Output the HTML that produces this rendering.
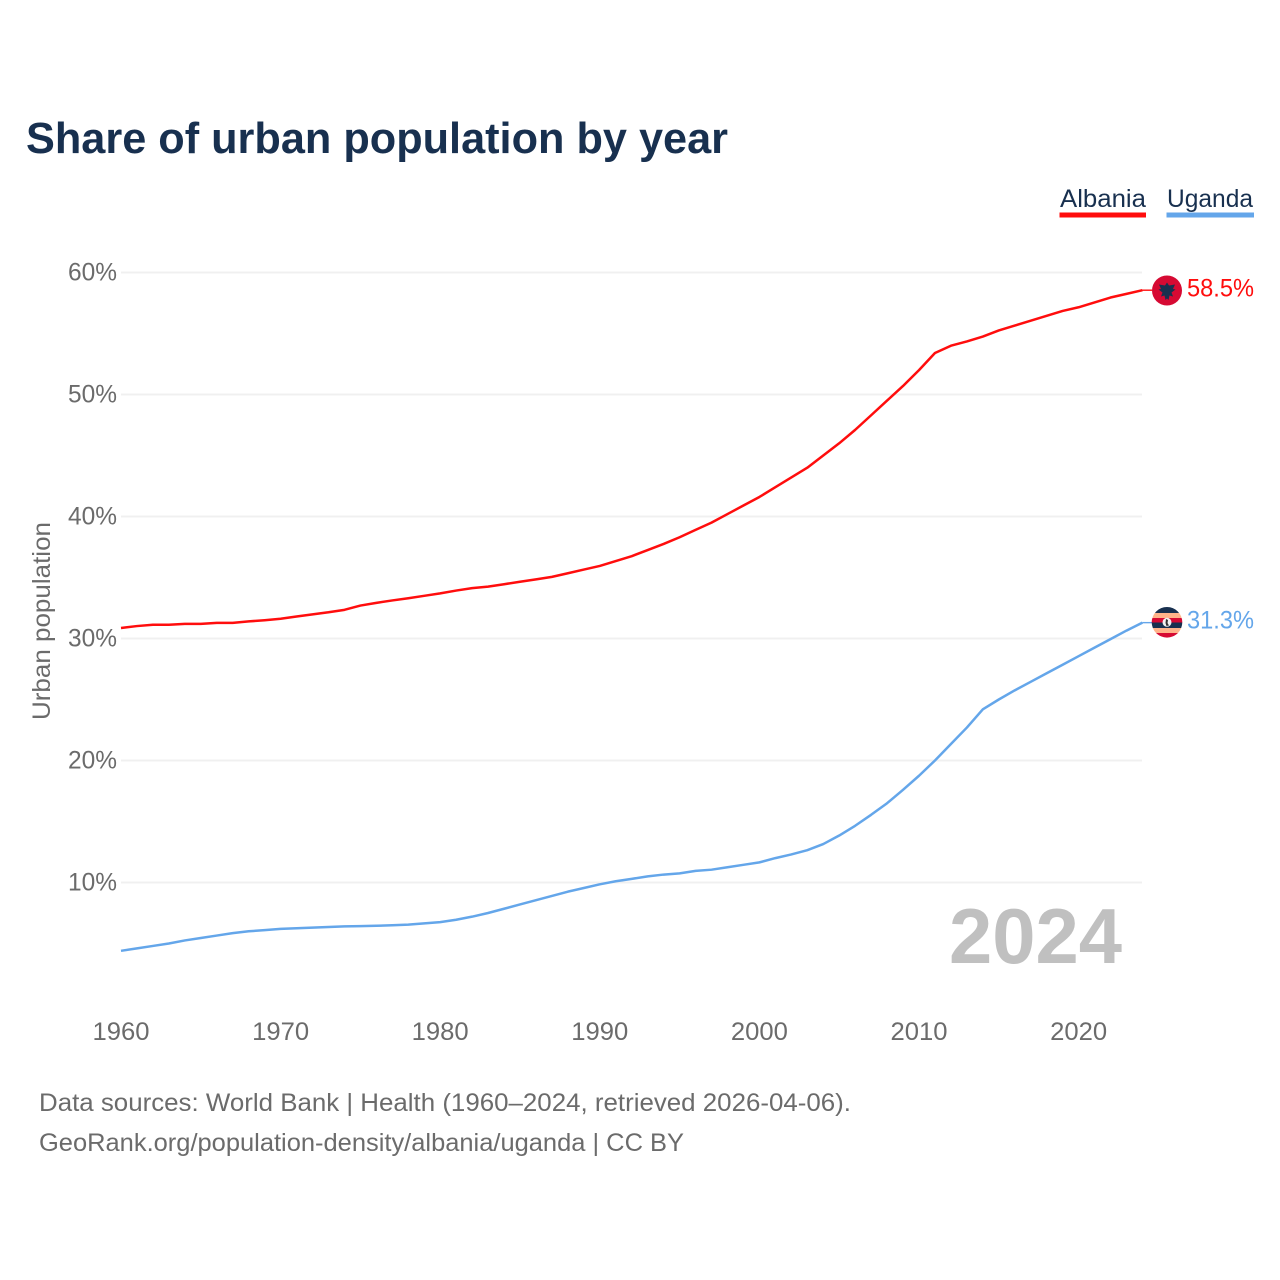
<!DOCTYPE html>
<html lang="en">
<head>
<meta charset="utf-8">
<title>Share of urban population by year</title>
<style>
html,body{margin:0;padding:0;background:#fff}
svg{display:block}
text{font-family:"Liberation Sans",sans-serif}
</style>
</head>
<body>
<svg id="chart" xmlns="http://www.w3.org/2000/svg" width="1280" height="1280" viewBox="0 0 1280 1280">
  <rect width="1280" height="1280" fill="#fff"/>
  <text x="26" y="153" font-size="44" font-weight="700" fill="#18304f" textLength="702" lengthAdjust="spacingAndGlyphs">Share of urban population by year</text>

  <text x="1060" y="207" font-size="25" fill="#18304f" textLength="86" lengthAdjust="spacingAndGlyphs">Albania</text>
  <rect x="1059.5" y="212.5" width="86.5" height="5" fill="#ff0d0d"/>
  <text x="1167" y="207" font-size="25" fill="#18304f" textLength="86" lengthAdjust="spacingAndGlyphs">Uganda</text>
  <rect x="1166.5" y="212.5" width="87.5" height="5" fill="#64a6ea"/>

  <g id="grid"></g>
  <g id="y-ticks"></g>
  <g id="x-ticks"></g>
  <text transform="translate(50,621) rotate(-90)" text-anchor="middle" font-size="25" fill="#6b6b6b" textLength="198" lengthAdjust="spacingAndGlyphs">Urban population</text>

  <text x="1122" y="963" text-anchor="end" font-size="78" font-weight="700" fill="#c0c0c0" textLength="173" lengthAdjust="spacingAndGlyphs">2024</text>

  <g id="series"></g>

  <g id="flag-albania">
    <circle cx="1167" cy="290.5" r="15" fill="#d60a33"/>
    <path d="M1167 282.500l2 3 6-1-2 4.500 2.500 .5-4 3 1.500 4-3.500-1-1 4.500-1.500-1.500-1.500 1.500-1-4.500-3.500 1 1.500-4-4-3 2.500-.5-2-4.500 6 1z" fill="#18304f"/>
  </g>
  <g id="flag-uganda">
    <clipPath id="uganda-clip"><circle cx="1167" cy="622.300" r="15.300"/></clipPath>
    <g clip-path="url(#uganda-clip)">
      <rect x="1151" y="606" width="32" height="7" fill="#18304f"/>
      <rect x="1151" y="613" width="32" height="5" fill="#ffb38a"/>
      <rect x="1151" y="618" width="32" height="4.500" fill="#d60a33"/>
      <rect x="1151" y="622.500" width="32" height="5.500" fill="#18304f"/>
      <rect x="1151" y="628" width="32" height="5" fill="#ffb38a"/>
      <rect x="1151" y="633" width="32" height="6" fill="#d60a33"/>
    </g>
    <circle cx="1167" cy="622.300" r="4.500" fill="#f2f2f2"/>
    <path d="M1166 619l2 1-.5 3 1.500 2.500-2.500 .5-1-3z" fill="#333"/>
  </g>

  <text id="end-label-albania" x="1187" y="296.500" font-size="25" fill="#ff0d0d" textLength="67" lengthAdjust="spacingAndGlyphs">58.5%</text>
  <text id="end-label-uganda" x="1187" y="628.500" font-size="25" fill="#64a6ea" textLength="67" lengthAdjust="spacingAndGlyphs">31.3%</text>

  <text x="39" y="1111" font-size="25" fill="#6b6b6b" textLength="812" lengthAdjust="spacingAndGlyphs">Data sources: World Bank | Health (1960–2024, retrieved 2026-04-06).</text>
  <text x="39" y="1151" font-size="25" fill="#6b6b6b" textLength="645" lengthAdjust="spacingAndGlyphs">GeoRank.org/population-density/albania/uganda | CC BY</text>
</svg>
<script>
const firstYear = 1960;
const xTickYears = [1960, 1970, 1980, 1990, 2000, 2010, 2020];
const yTickValues = [10, 20, 30, 40, 50, 60];
const albaniaValues = [
  30.86, 31.02, 31.13, 31.13, 31.2, 31.2, 31.28, 31.28, 31.4, 31.5,
  31.62, 31.8, 31.98, 32.15, 32.35, 32.7, 32.92, 33.12, 33.3, 33.5,
  33.7, 33.93, 34.13, 34.25, 34.45, 34.65, 34.85, 35.05, 35.35, 35.65,
  35.95, 36.35, 36.75, 37.25, 37.75, 38.3, 38.9, 39.5, 40.2, 40.9,
  41.6, 42.4, 43.2, 44, 45, 46, 47.1, 48.3, 49.5, 50.7,
  52, 53.4, 54, 54.35, 54.75, 55.25, 55.65, 56.05, 56.45, 56.85,
  57.15, 57.55, 57.95, 58.25, 58.55
];
const ugandaValues = [
  4.4, 4.6, 4.8, 5, 5.25, 5.45, 5.65, 5.85, 6, 6.1,
  6.2, 6.25, 6.3, 6.35, 6.4, 6.42, 6.45, 6.5, 6.55, 6.65,
  6.75, 6.95, 7.2, 7.5, 7.85, 8.2, 8.55, 8.9, 9.25, 9.55,
  9.85, 10.1, 10.3, 10.5, 10.65, 10.75, 10.95, 11.05, 11.25, 11.45,
  11.65, 12, 12.3, 12.65, 13.15, 13.85, 14.65, 15.55, 16.5, 17.6,
  18.75, 20, 21.35, 22.7, 24.2, 25, 25.75, 26.45, 27.15, 27.85,
  28.55, 29.25, 29.95, 30.65, 31.3
];

const NS = 'http://www.w3.org/2000/svg';
const xScale = year => 121 + (year - 1960) * 15.96;
const yScale = value => 882.5 - (value - 10) * 12.2;

const grid = document.getElementById('grid');
const yTicks = document.getElementById('y-ticks');
const xTicks = document.getElementById('x-ticks');
const series = document.getElementById('series');

yTickValues.forEach(v => {
  const line = document.createElementNS(NS, 'line');
  
  
  line.setAttribute('x1', 121);
  line.setAttribute('x2', 1142);
  line.setAttribute('y1', yScale(v));
  line.setAttribute('y2', yScale(v));
  line.setAttribute('stroke', '#f0f0f0');
  line.setAttribute('stroke-width', 2);
  grid.appendChild(line);

  const label = document.createElementNS(NS, 'text');
  
  
  label.setAttribute('x', 117);
  label.setAttribute('y', yScale(v) + 8);
  label.setAttribute('text-anchor', 'end');
  label.setAttribute('font-size', 25);
  label.setAttribute('fill', '#6b6b6b');
  label.setAttribute('textLength', 49);
  label.setAttribute('lengthAdjust', 'spacingAndGlyphs');
  label.textContent = v + '%';
  yTicks.appendChild(label);
});

xTickYears.forEach(y => {
  const label = document.createElementNS(NS, 'text');
  
  
  label.setAttribute('x', xScale(y));
  label.setAttribute('y', 1040);
  label.setAttribute('text-anchor', 'middle');
  label.setAttribute('font-size', 25);
  label.setAttribute('fill', '#6b6b6b');
  label.setAttribute('textLength', 57);
  label.setAttribute('lengthAdjust', 'spacingAndGlyphs');
  label.textContent = y;
  xTicks.appendChild(label);
});

function drawSeries(values, color, name) {
  const pts = values.map((v, i) => xScale(firstYear + i).toFixed(2) + ',' + yScale(v).toFixed(2));
  const last = values[values.length - 1];
  const line = document.createElementNS(NS, 'polyline');
  
  
  line.setAttribute('points', pts.join(' '));
  line.setAttribute('fill', 'none');
  line.setAttribute('stroke', color);
  line.setAttribute('stroke-width', 2.5);
  line.setAttribute('stroke-linejoin', 'round');
  series.appendChild(line);

  const connector = document.createElementNS(NS, 'line');
  
  
  connector.setAttribute('x1', xScale(firstYear + values.length - 1));
  connector.setAttribute('x2', 1152);
  connector.setAttribute('y1', yScale(last));
  connector.setAttribute('y2', yScale(last));
  connector.setAttribute('stroke', color);
  connector.setAttribute('stroke-width', 1.4);
  series.appendChild(connector);
}
drawSeries(albaniaValues, '#ff0d0d', 'albania-line');
drawSeries(ugandaValues, '#64a6ea', 'uganda-line');
</script>
</body>
</html>
